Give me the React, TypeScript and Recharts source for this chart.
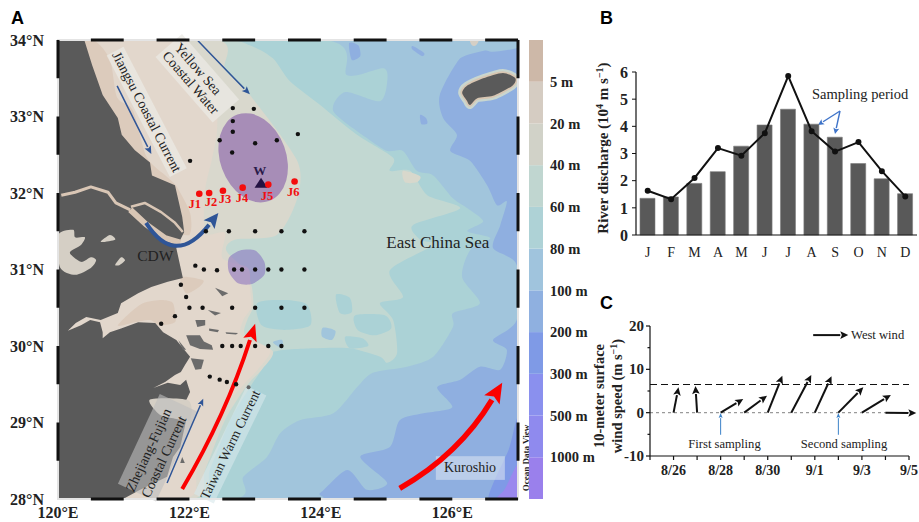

import React from 'react';
import {
  ComposedChart, ScatterChart, BarChart, Bar, Line, Scatter, XAxis, YAxis, ReferenceArea, ReferenceLine,
} from 'recharts';

const SERIF = '"Liberation Serif", serif';
const SANS = '"Liberation Sans", sans-serif';

type P = [number, number];

// ---- Panel A: outlines in longitude / latitude
const depth100: P[] = [[120,34],[126.57,34],[126.12,33.76],[125.81,33.28],[125.86,32.98],[126.07,32.76],[125.97,32.55],[126.27,32.42],[126.53,32.1],[126.68,31.84],[126.83,31.89],[126.73,31.58],[126.62,31.28],[126.98,31.06],[126.98,30.34],[126.62,30.08],[126.83,29.95],[126.73,29.69],[126.42,29.73],[126.12,29.56],[125.77,29.46],[126,29.2],[125.56,29.12],[125.2,29.03],[125.05,28.68],[124.6,28.55],[125.01,28.21],[124.7,28.12],[124.4,28.38],[123.99,28.08],[123.76,28],[120,28]];
const depth100Top: P[] = [[126.27,34],[127,34],[127,33.9],[126.57,33.85]];
const depth300: P[] = [[127,29.05],[126.86,28.65],[126.55,28],[127,28]];
const depth500: P[] = [[127,28.45],[126.8,28.13],[126.68,28],[127,28]];
const depth80: P[] = [[120,34],[124.06,34],[124.4,33.54],[124.95,33.63],[125.01,33.46],[124.9,33.2],[124.37,33.32],[124.19,33.07],[124.7,32.72],[125.01,32.55],[125.25,32.55],[125.46,32.29],[125.71,32.23],[126.01,31.93],[126.23,31.8],[126.47,31.63],[126.23,31.5],[126.58,31.41],[126.27,31.25],[126.15,30.9],[126.42,30.56],[126.01,30.43],[126.01,30.25],[125.71,29.86],[125.31,29.73],[124.79,29.65],[124.55,29.46],[124.19,29.12],[123.68,29.03],[123.38,28.86],[123.18,28.55],[122.82,28.29],[122.66,28],[120,28]];
const depth60: P[] = [[120,34],[122.47,34],[122.92,33.93],[123.27,33.76],[123.53,33.46],[123.99,33.15],[124.55,32.76],[125.1,32.46],[125.05,32.29],[125.36,32.29],[125.62,31.97],[126.12,31.8],[125.4,31.58],[125.51,31.39],[125.71,31.32],[125.05,30.99],[125.25,30.64],[124.9,30.56],[125.1,30.34],[125.16,29.91],[125.01,29.78],[124.9,29.86],[124.44,29.97],[123.88,29.97],[123.27,29.92],[123.1,29.69],[122.92,29.46],[122.62,29.03],[122.31,28.38],[122.12,28],[120,28]];
const depth40: P[] = [[120,34],[122.42,34],[122.54,33.61],[122.92,33.28],[123.64,32.42],[123.64,31.93],[123.33,31.45],[122.69,31.39],[122.56,31.25],[122.85,30.99],[122.95,30.77],[122.97,30.51],[122.88,30.34],[122.85,30.14],[123.27,29.93],[123.1,29.69],[122.88,29.49],[122.54,29.03],[122.24,28.38],[122.04,28],[120,28]];
const depth20: P[] = [[120,34],[121.7,34],[122.01,33.74],[122.39,33.28],[122.42,32.82],[122.34,32.43],[122.24,32.04],[122.24,31.48],[122.54,31.48],[122.5,31.15],[122.89,31.02],[122.92,30.77],[122.94,30.51],[122.82,30.34],[122.79,30.14],[123.23,29.95],[123.04,29.69],[122.82,29.49],[122.39,29.03],[122.12,28.38],[121.93,28],[120,28]];
const depth5: P[][] = [
  [[120,34],[120.53,34],[120.79,33.74],[120.9,33.25],[121.14,33.08],[121.35,32.47],[121.66,32.21],[121.81,32.08],[122.01,31.74],[122.01,31.47],[121.8,31.45],[120,31.45]],
  [[120.91,30.27],[121.25,30.54],[121.55,30.6],[121.74,30.57],[121.78,30.44],[121.78,30.31],[121.55,30.27],[121.4,30.34],[121.17,30.31]],
  [[121.87,30.9],[122.21,30.86],[122.13,30.76],[121.95,30.69]],
];
const patches80: P[][] = [
  [[123.03,30.56],[123.45,30.6],[123.79,30.54],[123.84,30.27],[123.45,30.21],[123.1,30.27]],
  [[124.23,30.67],[124.44,30.63],[124.47,30.44],[124.29,30.43]],
  [[124.52,30.4],[124.98,30.4],[125.07,30.23],[124.82,30.14],[124.56,30.21]],
  [[124.37,30.12],[124.63,30.1],[124.72,30],[124.44,29.97]],
];
const patches100: P[][] = [
  [[124.03,30.24],[124.22,30.2],[124.17,30.08],[124.02,30.12]],
  [[123.27,30.05],[123.41,30.08],[123.41,29.97]],
];
const patches200: P[][] = [
  [[124.43,33.96],[124.57,33.93],[124.6,33.79],[124.47,33.74]],
  [[125.4,33.92],[125.57,33.83],[125.54,33.79],[125.39,33.88]],
  [[125.51,33.02],[125.6,32.98],[125.62,32.91],[125.53,32.9]],
];
const patchesLight: P[][] = [[[125.25,32.29],[125.51,32.22],[125.46,32.14],[125.28,32.14]]];
const mainland: P[] = [[120,34],[120.4,34],[120.52,33.67],[120.68,33.28],[120.91,32.98],[120.97,32.76],[121.17,32.56],[121.4,32.4],[121.43,32.23],[121.78,32.1],[121.89,31.69],[121.92,31.49],[121.8,31.28],[121.9,30.89],[121.67,30.84],[121.42,30.77],[121.22,30.69],[120.96,30.56],[120.91,30.43],[120.65,30.34],[120.43,30.38],[120.27,30.3],[120.15,30.2],[120.35,30.27],[120.49,30.34],[120.64,30.31],[120.68,30.18],[120.68,30.1],[120.79,30.18],[120.96,30.23],[121.22,30.31],[121.48,30.3],[121.6,30.18],[121.8,30.08],[121.95,29.92],[122.01,29.86],[121.93,29.75],[121.87,29.66],[121.78,29.62],[121.63,29.53],[121.45,29.45],[121.67,29.52],[121.86,29.49],[121.95,29.56],[122.01,29.4],[121.95,29.29],[121.98,29.14],[121.86,28.68],[121.75,28.55],[121.66,28.29],[121.25,28.12],[120.99,28],[120,28]];
const jeju: P[] = [[126.15,33.31],[126.22,33.4],[126.47,33.5],[126.77,33.57],[126.96,33.5],[126.91,33.4],[126.62,33.27],[126.38,33.24],[126.27,33.15],[126.22,33.21]];
const lakes: P[][] = [
  [[120,31.45],[120.23,31.52],[120.26,31.42],[120.41,31.42],[120.35,31.32],[120.18,31.22],[120.35,31.1],[120.5,31.16],[120.58,31.12],[120.5,31.02],[120.26,30.93],[120.03,31.03]],
  [[120.65,31.36],[120.79,31.45],[120.87,31.39]],
  [[120.87,31.06],[120.96,31.16],[121.02,31.12],[120.94,31.06]],
  [[121.4,29.3],[121.98,29.29],[122.01,29.03],[121.78,29.05],[121.55,29.1]],
  [[126.27,34],[126.4,34],[126.36,33.93],[126.3,33.93]],
];
const islands: P[][] = [
  [[121.95,30.14],[122.16,30.14],[122.22,30.06],[122.34,30.01],[122.36,29.95],[122.16,29.96],[122.01,30.01]],
  [[121.83,30.08],[121.95,29.95],[121.9,29.95]],
  [[122.09,30.34],[122.24,30.34],[122.24,30.27],[122.12,30.25]],
  [[122.3,30.23],[122.45,30.21],[122.43,30.18],[122.3,30.2]],
  [[122.55,30.18],[122.74,30.17],[122.71,30.15],[122.56,30.16]],
  [[122.28,30.47],[122.48,30.43],[122.39,30.4]],
  [[122.39,30.76],[122.59,30.69],[122.5,30.65]],
  [[122.02,29.84],[122.22,29.82],[122.18,29.7],[122.09,29.69]],
  [[121.89,28.55],[121.93,28.47],[121.86,28.47]],
];
const riverMain: P[] = [[120.05,31.97],[120.26,32.01],[120.5,32.08],[120.76,32.01],[120.88,31.87],[121.1,31.78]];
const riverNorth: P[] = [[121.11,31.82],[121.32,31.87],[121.57,31.75],[121.78,31.61],[121.9,31.49]];
const riverSouth: P[] = [[121.1,31.78],[121.34,31.59],[121.63,31.41],[121.86,31.35]];
const hypoxiaNear: P = [122.97, 32.46];
const hypoxiaBlob: P[] = [[122.6,31.15],[122.77,31.25],[123,31.25],[123.14,31.1],[123.14,30.93],[122.95,30.81],[122.74,30.82],[122.6,30.97]];

const stations: { lon: number; lat: number }[] = [
  [122.66,33.11],[122.98,33.1],[122.66,32.94],[122.66,32.8],[123.65,32.77],[122.46,32.69],[123,32.65],[123.33,32.69],[122.65,32.53],[122.01,32.42],
  [122.25,31.5],[122.6,31.5],[123,31.5],[123.4,31.5],[123.75,31.5],
  [122.09,31.05],[122.22,31],[122.42,30.99],[122.68,31],[122.8,31],[123,31],[123.2,31],[123.4,31],[123.75,31],
  [121.87,30.8],[121.95,30.64],[122,30.5],[122.2,30.5],[122.65,30.5],[123,30.5],[123.4,30.5],[123.75,30.5],
  [121.78,30.39],[121.57,30.29],
  [122.5,30],[122.65,30],[122.78,30],[123,30],[123.2,30],[123.4,30],
  [122.31,29.6],[122.46,29.56],[122.57,29.53],[122.71,29.5],
].map(([lon, lat]) => ({ lon, lat }));
const greyStation = [{ lon: 122.9, lat: 29.46 }];
const redStations = [
  { lon: 122.15, lat: 31.99 }, { lon: 122.3, lat: 32 }, { lon: 122.51, lat: 32.03 },
  { lon: 122.81, lat: 32.07 }, { lon: 123.2, lat: 32.11 }, { lon: 123.6, lat: 32.15 },
];
const redLabels: [string, number, number][] = [['J1',122.08,31.86],['J2',122.33,31.88],['J3',122.54,31.92],['J4',122.8,31.93],['J5',123.18,31.96],['J6',123.58,32.01]];
const buoy = [{ lon: 123.09, lat: 32.12 }];
const lonTicks = [120, 122, 124, 126];
const latTicks = [28, 29, 30, 31, 32, 33, 34];
const lonDashes = [120.5, 121.5, 122.5, 123.5, 124.5, 125.5, 126.5];
const latDashes = [33.5, 32.5, 31.5, 30.5, 29.5, 28.5];

// ---- Colour bar
const bandLabels = ['', '1000 m', '500 m', '300 m', '200 m', '100 m', '80 m', '60 m', '40 m', '20 m', '5 m'];
const bandColors = ['#9a80ec', '#8f8aee', '#8a90ee', '#7f9ae6', '#8fb0e0', '#a0c4dd', '#aed2d6', '#c0d6d0', '#d1d2c8', '#d5ccc2', '#cdb8a8'];

// ---- Panel B
const months = ['J', 'F', 'M', 'A', 'M', 'J', 'J', 'A', 'S', 'O', 'N', 'D'];
const meanDischarge = [1.35, 1.4, 1.9, 2.33, 3.27, 4.05, 4.63, 4.08, 3.6, 2.63, 2.07, 1.52];
const yearDischarge = [1.63, 1.32, 2.1, 3.2, 2.92, 3.75, 5.85, 3.82, 3.07, 3.42, 2.35, 1.42];
const riverRows = months.map((m, i) => ({ key: i, m, bar: meanDischarge[i], line: yearDischarge[i] }));

// ---- Panel C (x = days after 8/26)
const dayLabels: Record<number, string> = { 0: '8/26', 2: '8/28', 4: '8/30', 6: '9/1', 8: '9/3', 10: '9/5' };
const dayTicks = [-1, 0, 1, 2, 3, 4, 5, 6, 7, 8, 9, 10];
const windTicks = [-10, -5, 0, 5, 10, 15, 20];
const windDx = [0.21, -0.07, 0.96, 0.97, 0.62, 0.85, 0.71, 1.06, 1.23, 1.31];
const windDy = [5.85, 6.15, 3.15, 3.9, 8.5, 8.7, 8.4, 5.85, 4.1, -0.1];
const meanWind = 6.5;
const samplingDays = [2, 7];
const windRows = dayTicks.map((d) => ({ d, w: d >= 0 && d < windDy.length ? windDy[d] : null }));

function head(x1: number, y1: number, x2: number, y2: number, len: number, wid: number) {
  const d = Math.hypot(x2 - x1, y2 - y1) || 1;
  const ux = (x2 - x1) / d, uy = (y2 - y1) / d;
  const bx = x2 - ux * len, by = y2 - uy * len;
  return {
    bx, by,
    points: `${x2},${y2} ${bx - uy * wid},${by + ux * wid} ${bx + ux * len * 0.2},${by + uy * len * 0.2} ${bx + uy * wid},${by - ux * wid}`,
  };
}

const ArrowLine = (color: string, sw: number, len: number, wid: number) => (p: any) => {
  const h = head(p.x1, p.y1, p.x2, p.y2, len, wid);
  return (
    <g>
      <line x1={p.x1} y1={p.y1} x2={h.bx} y2={h.by} stroke={color} strokeWidth={sw} />
      <polygon points={h.points} fill={color} />
    </g>
  );
};

function mapper(p: any) {
  const sx = (lon: number) => p.x + ((lon - 120) / 7) * p.width;
  const sy = (lat: number) => p.y + ((34 - lat) / 6) * p.height;
  const pts = (a: P[]) => a.map(([lo, la]) => `${sx(lo)},${sy(la)}`).join(' ');
  const smooth = (a: P[]) => {
    const q = a.map(([lo, la]) => [sx(lo), sy(la)]);
    const n = q.length;
    let d = `M${q[0][0]} ${q[0][1]}`;
    for (let i = 0; i < n; i++) {
      const p0 = q[(i - 1 + n) % n], p1 = q[i], p2 = q[(i + 1) % n], p3 = q[(i + 2) % n];
      const k = 0.13;
      d += ` C${p1[0] + (p2[0] - p0[0]) * k} ${p1[1] + (p2[1] - p0[1]) * k} ${p2[0] - (p3[0] - p1[0]) * k} ${p2[1] - (p3[1] - p1[1]) * k} ${p2[0]} ${p2[1]}`;
    }
    return d + 'Z';
  };
  return { sx, sy, pts, smooth };
}

const MapBase = (p: any) => {
  const { pts, smooth } = mapper(p);
  const blob = (a: P[], fill: string, k?: string | number) => <path key={k} d={smooth(a)} fill={fill} />;
  const poly = (a: P[], fill: string, k?: string | number) => <polygon key={k} points={pts(a)} fill={fill} />;
  return (
    <g>
      <defs>
        <clipPath id="mapClip"><rect x={p.x} y={p.y} width={p.width} height={p.height} /></clipPath>
      </defs>
      <g clipPath="url(#mapClip)">
        <rect x={p.x} y={p.y} width={p.width} height={p.height} fill="#8fafe0" />
        {blob(depth300, '#7f9ae6')}
        {blob(depth500, '#9a88ee')}
        {blob(depth100, '#a1c5dc')}
        {blob(depth100Top, '#a1c5dc')}
        {patches200.map((a, i) => blob(a, '#8fafe0', i))}
        {blob(depth80, '#abd2d6')}
        {patches100.map((a, i) => blob(a, '#a1c5dc', 'x' + i))}
        {blob(depth60, '#c2d8d2')}
        {patches80.map((a, i) => blob(a, '#abd2d6', 'y' + i))}
        {patches100.map((a, i) => blob(a, '#a1c5dc', 'z' + i))}
        {patchesLight.map((a, i) => blob(a, '#d8d8cc', 'l' + i))}
        {blob(depth40, '#d9d8cd')}
        {blob(depth20, '#e2d7cc')}
        {depth5.map((a, i) => blob(a, '#dccbbc', 'd' + i))}
        {poly(mainland, '#5a5a5a')}
        {lakes.map((a, i) => blob(a, '#d5cfc5', 'k' + i))}
        <polyline points={pts(riverMain)} fill="none" stroke="#d9c6b5" strokeWidth={3} strokeLinejoin="round" />
        <polyline points={pts(riverNorth)} fill="none" stroke="#d9c6b5" strokeWidth={2.5} strokeLinejoin="round" />
        <polyline points={pts(riverSouth)} fill="none" stroke="#d9c6b5" strokeWidth={6} strokeLinejoin="round" />
        {islands.map((a, i) => poly(a, '#6b6b6b', i))}
        <path d={smooth(jeju)} fill="#c9d6cf" stroke="#c9d6cf" strokeWidth={8} />
        <path d={smooth(jeju)} fill="#d8c6b2" stroke="#d8c6b2" strokeWidth={3.5} />
        <path d={smooth(jeju)} fill="#5a5a5a" />
      </g>
    </g>
  );
};

const MapPurple = (p: any) => {
  const { sx, sy, smooth } = mapper(p);
  return (
    <g>
      <ellipse cx={sx(hypoxiaNear[0])} cy={sy(hypoxiaNear[1])} rx={33} ry={46}
        transform={`rotate(-20 ${sx(hypoxiaNear[0])} ${sy(hypoxiaNear[1])})`} fill="rgba(125,80,165,0.55)" />
      <path d={smooth(hypoxiaBlob)} fill="rgba(125,100,190,0.5)" />
    </g>
  );
};

const MapFrame = (p: any) => {
  const { sx, sy } = mapper(p);
  return (
    <g>
      <rect x={p.x} y={p.y} width={p.width} height={p.height} fill="none" stroke="#e4e4e4" strokeWidth={2} />
      {lonDashes.map((l) => (
        <g key={l}>
          <line x1={sx(l)} x2={sx(l + 0.5)} y1={sy(34)} y2={sy(34)} stroke="#111" strokeWidth={3} />
          <line x1={sx(l)} x2={sx(l + 0.5)} y1={sy(28)} y2={sy(28)} stroke="#111" strokeWidth={3} />
        </g>
      ))}
      {latDashes.map((l) => (
        <g key={l}>
          <line x1={sx(120)} x2={sx(120)} y1={sy(l + 0.5)} y2={sy(l)} stroke="#111" strokeWidth={3} />
          <line x1={sx(127)} x2={sx(127)} y1={sy(l + 0.5)} y2={sy(l)} stroke="#111" strokeWidth={3} />
        </g>
      ))}
    </g>
  );
};

const MapNotes = (p: any) => {
  const { sx, sy } = mapper(p);
  const box = (lo: number, la: number, w: number, h: number, rot: number, fill: string) => {
    const cx = sx(lo), cy = sy(la);
    return <rect x={cx - w / 2} y={cy - h / 2} width={w} height={h} fill={fill} transform={`rotate(${rot} ${cx} ${cy})`} />;
  };
  const txt = (s: string, lo: number, la: number, rot: number, size: number, extra: any = {}) => {
    const cx = sx(lo), cy = sy(la);
    return (
      <text x={cx} y={cy} textAnchor="middle" dominantBaseline="central" fontFamily={SERIF} fontSize={size} fill="#222"
        transform={`rotate(${rot} ${cx} ${cy})`} {...extra}>{s}</text>
    );
  };
  const curve = (a: P, c: P, b: P, color: string, sw: number, len: number, wid: number) => {
    const x1 = sx(a[0]), y1 = sy(a[1]), cx = sx(c[0]), cy = sy(c[1]), x2 = sx(b[0]), y2 = sy(b[1]);
    const h = head(cx, cy, x2, y2, len, wid);
    return (
      <g>
        <path d={`M${x1} ${y1} Q${cx} ${cy} ${h.bx} ${h.by}`} fill="none" stroke={color} strokeWidth={sw} />
        <polygon points={h.points} fill={color} />
      </g>
    );
  };
  return (
    <g>
      {box(121.35, 33.06, 137, 19, 62.5, 'rgba(235,233,228,0.75)')}
      {box(122.12, 33.5, 87, 35, 49, 'rgba(235,233,228,0.75)')}
      {box(121.52, 28.67, 99, 42, -65, 'rgba(190,190,190,0.6)')}
      {box(122.62, 28.71, 120, 22, -64, 'rgba(215,232,235,0.6)')}
      <rect x={sx(125.75)} y={sy(28.56)} width={sx(126.8) - sx(125.75)} height={sy(28.25) - sy(28.56)} fill="rgba(215,225,240,0.6)" />
      {txt('Jiangsu Coastal Current', 121.35, 33.06, 62.5, 14)}
      {txt('Yellow Sea', 122.13, 33.62, 49, 14)}
      {txt('Coastal Water', 122.02, 33.44, 49, 14)}
      {txt('Zhejiang-Fujian', 121.38, 28.64, -65, 14)}
      {txt('Coastal Current', 121.61, 28.55, -65, 14)}
      {txt('Taiwan Warm Current', 122.62, 28.71, -64, 13.5)}
      {txt('Kuroshio', 126.27, 28.41, 0, 14)}
      {txt('East China Sea', 125.78, 31.35, 0, 17)}
      {txt('CDW', 121.48, 31.18, 0, 15.5)}
      {redLabels.map(([s, lo, la]) => (
        <g key={s}>{txt(s, lo, la, 0, 12.5, { fill: '#f01010', fontWeight: 700 })}</g>
      ))}
      {txt('W', 123.07, 32.29, 0, 13, { fill: '#2a1a4a', fontWeight: 700 })}
      {curve([125.2, 28.14], [126.1, 28.58], [126.76, 29.52], '#fb0000', 5.5, 20, 9)}
      {curve([121.89, 28.13], [122.56, 29.11], [123, 30.29], '#fb0000', 4, 17, 7)}
      {curve([121.34, 31.61], [121.78, 31.02], [122.44, 31.74], '#2f5597', 4, 15, 7)}
      {curve([120.9, 33.4], [121.16, 32.95], [121.42, 32.51], '#2f5597', 1.5, 8, 3.5)}
      {curve([122.13, 33.99], [122.52, 33.64], [122.92, 33.29], '#2f5597', 1.5, 8, 3.5)}
      {curve([121.66, 28.21], [121.93, 28.76], [122.21, 29.31], '#2f5597', 1.5, 7, 3)}
      <text x={0} y={0} fontFamily={SERIF} fontSize={9} fontWeight={700} fill="#222" textAnchor="middle"
        transform={`translate(${p.x + p.width + 11} ${p.y + p.height - 41}) rotate(-90)`}>Ocean Data View</text>
    </g>
  );
};

const dot = (r: number, fill: string) => (p: any) => <circle cx={p.cx} cy={p.cy} r={r} fill={fill} />;
const triangle = (p: any) => <polygon points={`${p.cx},${p.cy - 6} ${p.cx - 6.5},${p.cy + 4} ${p.cx + 6.5},${p.cy + 4}`} fill="#231242" />;

const aTick = { fontFamily: SERIF, fontSize: 16, fontWeight: 700, fill: '#222' };

function PanelA() {
  return (
    <div style={{ position: 'absolute', left: 0, top: 0 }}>
      <ScatterChart width={600} height={522} margin={{ top: 40, right: 82, bottom: 0, left: 0 }}>
        <XAxis type="number" dataKey="lon" domain={[120, 127]} ticks={lonTicks} height={23} tickFormatter={(v) => `${v}°E`}
          tick={aTick} tickLine={false} axisLine={false} tickMargin={2} interval={0} allowDataOverflow />
        <YAxis type="number" dataKey="lat" domain={[28, 34]} ticks={latTicks} width={58} tickFormatter={(v) => `${v}°N`}
          tick={aTick} tickLine={false} axisLine={false} tickMargin={8} interval={0} allowDataOverflow />
        <ReferenceArea x1={120} x2={127} y1={28} y2={34} shape={MapBase} />
        <Scatter data={stations} shape={dot(2.2, '#111')} isAnimationActive={false} />
        <Scatter data={greyStation} shape={dot(2, '#666')} isAnimationActive={false} />
        <ReferenceArea x1={120} x2={127} y1={28} y2={34} shape={MapPurple} />
        <Scatter data={buoy} shape={triangle} isAnimationActive={false} />
        <Scatter data={redStations} shape={dot(3.3, '#f40d0d')} isAnimationActive={false} />
        <ReferenceArea x1={120} x2={127} y1={28} y2={34} shape={MapNotes} />
        <ReferenceArea x1={120} x2={127} y1={28} y2={34} shape={MapFrame} />
        <text x={11} y={24} fontFamily={SANS} fontWeight={700} fontSize={18} fill="#000">A</text>
      </ScatterChart>
    </div>
  );
}

function ColourBar() {
  const row: any = {};
  bandColors.forEach((_, i) => { row[`b${i}`] = 1; });
  return (
    <div style={{ position: 'absolute', left: 529, top: 30 }}>
      <BarChart width={70} height={480} data={[row]} margin={{ top: 10, right: 0, bottom: 11, left: 0 }} barCategoryGap={0}>
        <XAxis hide />
        <YAxis orientation="right" width={56} type="number" domain={[0, 11]} ticks={[1, 2, 3, 4, 5, 6, 7, 8, 9, 10]}
          tickFormatter={(v) => bandLabels[v]} interval={0} axisLine={false} tickLine={false} tickMargin={1}
          tick={{ fontFamily: SERIF, fontSize: 14.5, fontWeight: 700, fill: '#222', textAnchor: 'start' }} />
        {bandColors.map((c, i) => (
          <Bar key={c + i} dataKey={`b${i}`} stackId="d" fill={c} isAnimationActive={false} />
        ))}
      </BarChart>
    </div>
  );
}

function PanelB() {
  const ox = 590, oy = 0;
  const blue = '#3f74c9';
  const arrow = (x1: number, y1: number, x2: number, y2: number) => {
    const h = head(x1 - ox, y1 - oy, x2 - ox, y2 - oy, 6, 3);
    return (
      <g>
        <line x1={x1 - ox} y1={y1 - oy} x2={h.bx} y2={h.by} stroke={blue} strokeWidth={1.4} />
        <polygon points={h.points} fill={blue} />
      </g>
    );
  };
  return (
    <div style={{ position: 'absolute', left: ox, top: oy }}>
      <ComposedChart width={329} height={262} data={riverRows} margin={{ top: 72, right: 2, bottom: 0, left: 0 }} barCategoryGap="17%">
        <XAxis dataKey="key" height={27} tickFormatter={(i) => months[i]} axisLine={{ stroke: '#111', strokeWidth: 1.2 }} tickLine={false}
          tick={{ fontFamily: SERIF, fontSize: 14, fill: '#222' }} tickMargin={6} interval={0} />
        <YAxis width={46} domain={[0, 6]} ticks={[0, 1, 2, 3, 4, 5, 6]} axisLine={{ stroke: '#111', strokeWidth: 1.2 }}
          tickLine={{ stroke: '#111' }} tickSize={4} tickMargin={4} interval={0}
          tick={{ fontFamily: SERIF, fontSize: 16, fontWeight: 700, fill: '#222' }} />
        <Bar dataKey="bar" fill="#595959" stroke="#7a7a7a" strokeWidth={0.6} isAnimationActive={false} />
        <Line dataKey="line" type="linear" stroke="#111" strokeWidth={2} dot={{ r: 2, fill: '#111', stroke: '#111' }} isAnimationActive={false} />
        <text x={10} y={24} fontFamily={SANS} fontWeight={700} fontSize={18} fill="#000">B</text>
        <text transform="translate(18 148) rotate(-90)" textAnchor="middle" fontFamily={SERIF} fontWeight={700} fontSize={15} fill="#222">
          River discharge (10<tspan fontSize={10} dy={-5}>4</tspan><tspan dy={5}> m s</tspan><tspan fontSize={10} dy={-5}>−1</tspan><tspan dy={5}>)</tspan>
        </text>
        <text x={222} y={99} fontFamily={SERIF} fontSize={14.5} fill="#222">Sampling period</text>
        {arrow(840, 111, 818, 125)}
        {arrow(840, 111, 835, 134)}
      </ComposedChart>
    </div>
  );
}

function PanelC() {
  const ox = 590, oy = 280;
  const yTick = (p: any) => {
    const major = p.payload.value % 10 === 0;
    return (
      <g>
        <line x1={p.x} x2={p.x - (major ? 4 : 2.5)} y1={p.y} y2={p.y} stroke="#111" strokeWidth={1.2} />
        {major && (
          <text x={p.x - 6} y={p.y} textAnchor="end" dominantBaseline="central" fontFamily={SERIF} fontSize={15} fontWeight={700} fill="#222">{p.payload.value}</text>
        )}
      </g>
    );
  };
  return (
    <div style={{ position: 'absolute', left: ox, top: oy }}>
      <ComposedChart width={329} height={206} data={windRows} margin={{ top: 46, right: 10, bottom: 0, left: 0 }}>
        <XAxis dataKey="d" type="number" domain={[-1, 10]} ticks={dayTicks} height={30} interval={0} tickFormatter={(v) => dayLabels[v] ?? ''}
          axisLine={{ stroke: '#111', strokeWidth: 1.2 }} tickLine={{ stroke: '#111', strokeWidth: 1.2 }} tickSize={4} tickMargin={5}
          tick={{ fontFamily: SERIF, fontSize: 14, fontWeight: 700, fill: '#222' }} />
        <YAxis width={60} type="number" domain={[-10, 20]} ticks={windTicks} interval={0} axisLine={{ stroke: '#111', strokeWidth: 1.2 }}
          tickLine={false} tickSize={0} tickMargin={0} tick={yTick} />
        <Line dataKey="w" stroke="none" dot={false} activeDot={false} isAnimationActive={false} />
        <ReferenceLine y={0} stroke="#9a9a9a" strokeDasharray="3 3" strokeWidth={1.3} />
        <ReferenceLine y={meanWind} stroke="#111" strokeDasharray="7 4" strokeWidth={1.2} />
        {windDx.map((dx, i) => (
          <ReferenceLine key={i} ifOverflow="visible" segment={[{ x: i, y: 0 }, { x: i + dx, y: windDy[i] }]} shape={ArrowLine('#111', 2, 8, 3.8)} />
        ))}
        {samplingDays.map((d) => (
          <ReferenceLine key={d} ifOverflow="visible" segment={[{ x: d, y: -5.1 }, { x: d, y: -0.1 }]} shape={ArrowLine('#3c82c8', 1, 5, 2)} />
        ))}
        <ReferenceLine ifOverflow="visible" segment={[{ x: 5.93, y: 17.9 }, { x: 7.42, y: 17.9 }]} shape={ArrowLine('#111', 2, 8, 3.8)} />
        <text x={10} y={29} fontFamily={SANS} fontWeight={700} fontSize={18} fill="#000">C</text>
        <text x={261} y={59} fontFamily={SERIF} fontSize={12.6} fill="#222">West wind</text>
        <text x={134.5} y={168} textAnchor="middle" fontFamily={SERIF} fontSize={12.6} fill="#222">First sampling</text>
        <text x={254} y={168} textAnchor="middle" fontFamily={SERIF} fontSize={12.6} fill="#222">Second sampling</text>
        <text transform="translate(14 116) rotate(-90)" textAnchor="middle" fontFamily={SERIF} fontWeight={700} fontSize={14.5} fill="#222">10-meter surface</text>
        <text transform="translate(32 116) rotate(-90)" textAnchor="middle" fontFamily={SERIF} fontWeight={700} fontSize={14.5} fill="#222">
          wind speed (m s<tspan fontSize={10} dy={-5}>−1</tspan><tspan dy={5}>)</tspan>
        </text>
      </ComposedChart>
    </div>
  );
}

export default function App() {
  return (
    <div style={{ position: 'absolute', left: 0, top: 0, width: 919, height: 522, background: '#fff', overflow: 'hidden' }}>
      <PanelA />
      <ColourBar />
      <PanelB />
      <PanelC />
    </div>
  );
}
